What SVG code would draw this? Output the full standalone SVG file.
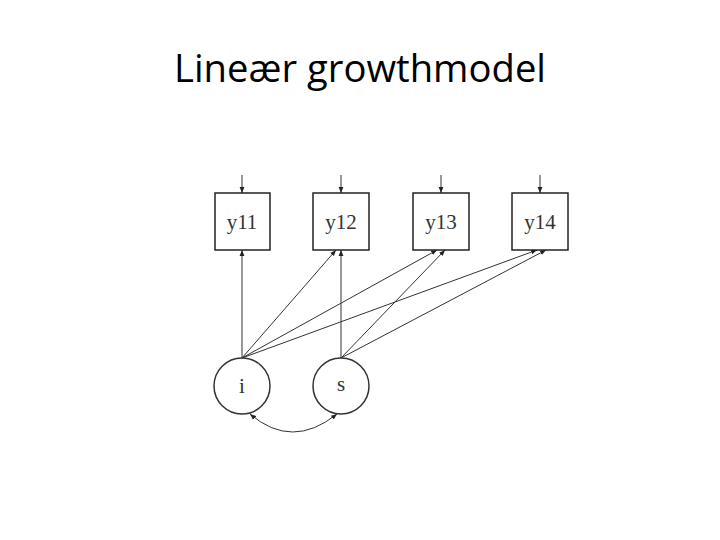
<svg xmlns="http://www.w3.org/2000/svg" width="720" height="540" viewBox="0 0 720 540">
<defs>
<marker id="ah" viewBox="0 0 10 10" refX="10" refY="5" markerWidth="6" markerHeight="6" orient="auto-start-reverse" markerUnits="userSpaceOnUse">
<path d="M0,1 L10,5 L0,9 z" fill="#222"/>
</marker>
<style>
.box{fill:#fff;stroke:#222;stroke-width:1.5}
.lat{fill:#fff;stroke:#333;stroke-width:1.5}
.lbl{font-family:"Liberation Serif",serif;font-size:21px;fill:#333;text-anchor:middle}
.ln{stroke:#333;stroke-width:1;fill:none;marker-end:url(#ah)}
.title{font-family:"Open Sans","Noto Sans",sans-serif;font-size:38px;fill:#000}
</style>
</defs>
<rect width="720" height="540" fill="#fff"/>
<text class="title" x="174" y="82" textLength="372" lengthAdjust="spacingAndGlyphs">Lineær growthmodel</text>
<g id="connectors">
<line class="ln" x1="242" y1="175" x2="242" y2="193"/>
<line class="ln" x1="341" y1="175" x2="341" y2="193"/>
<line class="ln" x1="441" y1="175" x2="441" y2="193"/>
<line class="ln" x1="540" y1="175" x2="540" y2="193"/>
<line class="ln" x1="242" y1="358" x2="242" y2="250"/>
<line class="ln" x1="242" y1="358" x2="336" y2="250"/>
<line class="ln" x1="242" y1="358" x2="437" y2="250"/>
<line class="ln" x1="242" y1="358" x2="537" y2="250"/>
<line class="ln" x1="341" y1="358" x2="341" y2="250"/>
<line class="ln" x1="341" y1="358" x2="445" y2="250"/>
<line class="ln" x1="341" y1="358" x2="546" y2="250"/>
<path class="ln" d="M250,414 Q292,450 337,414" marker-start="url(#ah)"/>
</g>
<g id="y11"><rect class="box" x="215" y="193" width="55" height="57"/><text class="lbl" x="242" y="229">y11</text></g>
<g id="y12"><rect class="box" x="313" y="193" width="56" height="57"/><text class="lbl" x="341" y="229">y12</text></g>
<g id="y13"><rect class="box" x="413" y="193" width="56" height="57"/><text class="lbl" x="441" y="229">y13</text></g>
<g id="y14"><rect class="box" x="512" y="193" width="56" height="57"/><text class="lbl" x="540" y="229">y14</text></g>
<g id="i"><circle class="lat" cx="242" cy="386" r="28"/><text class="lbl" x="242" y="393">i</text></g>
<g id="s"><circle class="lat" cx="341" cy="386" r="28"/><text class="lbl" x="341" y="391">s</text></g>
</svg>
